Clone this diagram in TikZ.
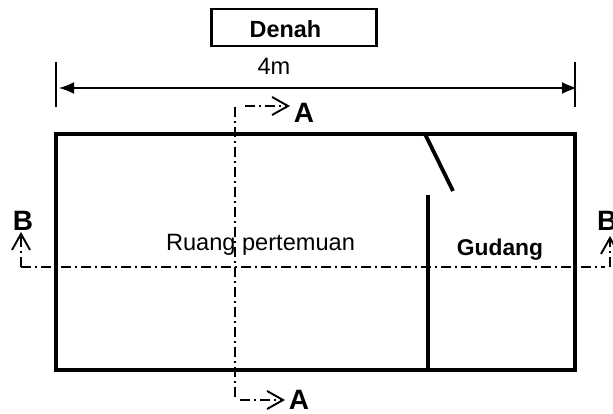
\documentclass[tikz,border=0pt]{standalone}
\usepackage{fontspec}
\setmainfont{Liberation Sans}
\usetikzlibrary{arrows.meta}
\tikzset{
  plain/.style={font=\fontsize{23.6}{26}\selectfont,inner sep=0pt,anchor=base},
  strong/.style={font=\fontsize{23.4}{26}\selectfont\bfseries,inner sep=0pt,anchor=base},
  cutlabel/.style={font=\fontsize{28}{30}\selectfont\bfseries,inner sep=0pt,anchor=base},
  wall/.style={line width=3.8pt,line join=miter},
  cutline/.style={line width=1.9pt,dash pattern=on 10pt off 4pt on 2pt off 4pt},
  chevron/.style={-{Straight Barb[length=16pt,width=18pt,line width=1.9pt]}},
  dim/.style={line width=1.5pt,{Latex[length=15pt,width=12pt]}-{Latex[length=15pt,width=12pt]}},
  tick/.style={line width=1.2pt}
}
\begin{document}
\begin{tikzpicture}[x=1pt,y=-1pt]
\useasboundingbox (0,0) rectangle (613,414);
% title
\node[draw,line width=2.7pt,minimum width=165pt,minimum height=37pt,inner sep=0pt] (titlebox) at (294,27.5) {};
\node[strong] (title) at (285.5,38) {Denah};
% dimension
\coordinate (dl1) at (56,62); \coordinate (dl2) at (56,107);
\coordinate (dr1) at (575,62); \coordinate (dr2) at (575,107);
\coordinate (dL) at (59,88); \coordinate (dR) at (577,88);
\draw[tick] (dl1) -- (dl2);
\draw[tick] (dr1) -- (dr2);
\draw[dim] (dL) -- (dR);
\node[plain] (len) at (274,75) {4m};
% walls
\coordinate (nw) at (56,134); \coordinate (se) at (575,370);
\coordinate (p1) at (428,195); \coordinate (p2) at (428,370);
\coordinate (d1) at (425,134); \coordinate (d2) at (453,191);
\draw[wall] (nw) rectangle (se);
\draw[wall] (p1) -- (p2);
\draw[wall] (d1) -- (d2);
% section A
\coordinate (a1) at (290,106); \coordinate (a2) at (245,106);
\coordinate (a3) at (235,107); \coordinate (a4) at (235,398);
\coordinate (a5) at (240,400); \coordinate (a6) at (285,400);
\draw[cutline] (a3) -- (a4);
\draw[cutline,chevron] (a2) -- (a1);
\draw[cutline,chevron] (a5) -- (a6);
\node[cutlabel] (At) at (304,122.7) {A};
\node[cutlabel] (Ab) at (299,409) {A};
% section B
\coordinate (bl) at (21,267); \coordinate (bl2) at (21,232);
\coordinate (br) at (610,267); \coordinate (br2) at (610,236);
\draw[cutline,chevron] (bl) -- (bl2);
\draw[cutline] (bl) -- (605,267);
\draw[cutline,chevron] (br) -- (br2);
\node[cutlabel] (Bl) at (23,230) {B};
\node[cutlabel,anchor=base west] (Br) at (597,230) {B};
% rooms
\node[plain] (ruang) at (260.5,251) {Ruang pertemuan};
\node[strong,font=\fontsize{22.8}{26}\selectfont\bfseries] (gudang) at (500,255) {Gudang};
\end{tikzpicture}
\end{document}
